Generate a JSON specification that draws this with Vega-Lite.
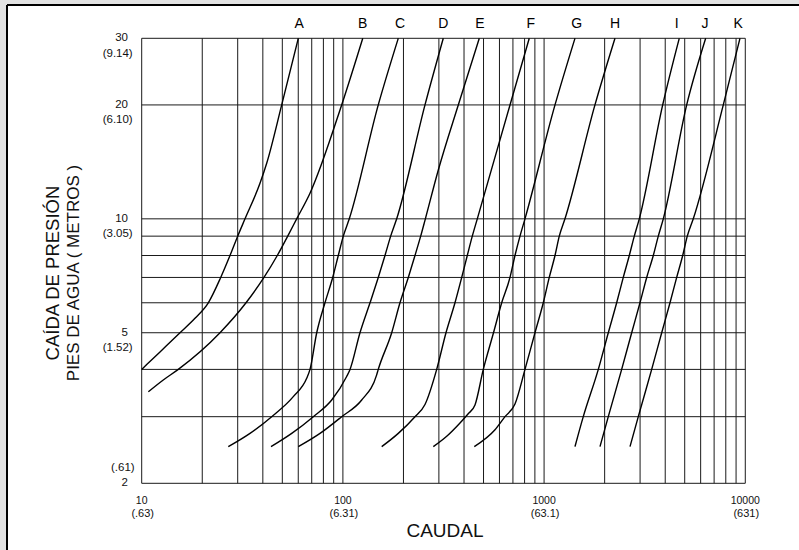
{
  "$schema": "https://vega.github.io/schema/vega-lite/v6.json",
  "autosize": {"type": "none"},
  "padding": {"left": 7, "top": 5, "right": 0, "bottom": 0},
  "width": 792,
  "height": 545,
  "background": "#e2e2e2",
  "config": {"view": {"fill": "white", "stroke": null}},
  "datasets": {
    "vgrid": [
      {"q": 10}, {"q": 20}, {"q": 30}, {"q": 40}, {"q": 50}, {"q": 60}, {"q": 70}, {"q": 80}, {"q": 90},
      {"q": 100}, {"q": 200}, {"q": 300}, {"q": 400}, {"q": 500}, {"q": 600}, {"q": 700}, {"q": 800}, {"q": 900},
      {"q": 1000}, {"q": 2000}, {"q": 3000}, {"q": 4000}, {"q": 5000}, {"q": 6000}, {"q": 7000}, {"q": 8000}, {"q": 9000},
      {"q": 10000}
    ],
    "hgrid": [
      {"h": 2}, {"h": 3}, {"h": 4}, {"h": 5}, {"h": 6}, {"h": 7}, {"h": 8}, {"h": 9}, {"h": 10}, {"h": 20}, {"h": 30}
    ],
    "curves": [
      {"c": "A", "q": 10, "h": 4}, {"c": "A", "q": 12.33, "h": 4.45}, {"c": "A", "q": 15.5, "h": 5}, {"c": "A", "q": 18.4, "h": 5.46},
      {"c": "A", "q": 21.43, "h": 6}, {"c": "A", "q": 24.7, "h": 7}, {"c": "A", "q": 27.47, "h": 8}, {"c": "A", "q": 30.0, "h": 9},
      {"c": "A", "q": 32.62, "h": 10}, {"c": "A", "q": 38.72, "h": 12.41}, {"c": "A", "q": 41.81, "h": 14.02}, {"c": "A", "q": 49.65, "h": 20}, {"c": "A", "q": 60.02, "h": 30},

      {"c": "B", "q": 10.79, "h": 3.49}, {"c": "B", "q": 12.8, "h": 3.75}, {"c": "B", "q": 15.2, "h": 4}, {"c": "B", "q": 24.5, "h": 5},
      {"c": "B", "q": 33.0, "h": 6}, {"c": "B", "q": 40.53, "h": 7}, {"c": "B", "q": 47.2, "h": 8}, {"c": "B", "q": 53.18, "h": 9},
      {"c": "B", "q": 58.93, "h": 10}, {"c": "B", "q": 68.63, "h": 11.69}, {"c": "B", "q": 98.6, "h": 20}, {"c": "B", "q": 125.5, "h": 30},

      {"c": "C", "q": 26.94, "h": 2.5}, {"c": "C", "q": 34.54, "h": 2.71}, {"c": "C", "q": 44.27, "h": 3}, {"c": "C", "q": 56.68, "h": 3.39},
      {"c": "C", "q": 66.08, "h": 3.79}, {"c": "C", "q": 68.63, "h": 4}, {"c": "C", "q": 74.11, "h": 5}, {"c": "C", "q": 81.46, "h": 6},
      {"c": "C", "q": 88.99, "h": 7}, {"c": "C", "q": 94.87, "h": 8}, {"c": "C", "q": 100.46, "h": 9}, {"c": "C", "q": 107.6, "h": 10},
      {"c": "C", "q": 149.9, "h": 20}, {"c": "C", "q": 188.5, "h": 30},

      {"c": "D", "q": 43.92, "h": 2.5}, {"c": "D", "q": 55.67, "h": 2.71}, {"c": "D", "q": 71.28, "h": 3}, {"c": "D", "q": 87.98, "h": 3.32},
      {"c": "D", "q": 104.4, "h": 3.83}, {"c": "D", "q": 108.5, "h": 4}, {"c": "D", "q": 121.6, "h": 5}, {"c": "D", "q": 136.4, "h": 6},
      {"c": "D", "q": 149.9, "h": 7}, {"c": "D", "q": 161.9, "h": 8}, {"c": "D", "q": 172.8, "h": 9}, {"c": "D", "q": 185.1, "h": 10},
      {"c": "D", "q": 255.9, "h": 20}, {"c": "D", "q": 315.5, "h": 30},

      {"c": "E", "q": 60.02, "h": 2.5}, {"c": "E", "q": 76.96, "h": 2.71}, {"c": "E", "q": 98.6, "h": 3}, {"c": "E", "q": 124.0, "h": 3.32},
      {"c": "E", "q": 147.2, "h": 3.87}, {"c": "E", "q": 149.9, "h": 4}, {"c": "E", "q": 174.8, "h": 5}, {"c": "E", "q": 192.2, "h": 6},
      {"c": "E", "q": 211.4, "h": 7}, {"c": "E", "q": 228.2, "h": 8}, {"c": "E", "q": 243.6, "h": 9}, {"c": "E", "q": 257.0, "h": 10},
      {"c": "E", "q": 298.0, "h": 13.46}, {"c": "E", "q": 374.6, "h": 20}, {"c": "E", "q": 476.4, "h": 30},

      {"c": "F", "q": 155.9, "h": 2.5}, {"c": "F", "q": 188.5, "h": 2.71}, {"c": "F", "q": 228.2, "h": 3}, {"c": "F", "q": 255.9, "h": 3.23},
      {"c": "F", "q": 292.6, "h": 4}, {"c": "F", "q": 325.4, "h": 5}, {"c": "F", "q": 360.7, "h": 6}, {"c": "F", "q": 389.6, "h": 7},
      {"c": "F", "q": 415.2, "h": 8}, {"c": "F", "q": 439.7, "h": 9}, {"c": "F", "q": 465.6, "h": 10}, {"c": "F", "q": 677.0, "h": 20},
      {"c": "F", "q": 844.0, "h": 30},

      {"c": "G", "q": 281.4, "h": 2.5}, {"c": "G", "q": 329.2, "h": 2.667}, {"c": "G", "q": 382.0, "h": 2.887}, {"c": "G", "q": 418.6, "h": 3.049},
      {"c": "G", "q": 453.5, "h": 3.221},
      {"c": "G", "q": 498.7, "h": 4}, {"c": "G", "q": 560.5, "h": 5}, {"c": "G", "q": 615.6, "h": 6}, {"c": "G", "q": 677.0, "h": 7},
      {"c": "G", "q": 716.7, "h": 8}, {"c": "G", "q": 759.0, "h": 9}, {"c": "G", "q": 803.6, "h": 10}, {"c": "G", "q": 1133, "h": 20},
      {"c": "G", "q": 1424, "h": 30},

      {"c": "H", "q": 449.9, "h": 2.5}, {"c": "H", "q": 570.2, "h": 2.77}, {"c": "H", "q": 639.3, "h": 3}, {"c": "H", "q": 716.7, "h": 3.24},
      {"c": "H", "q": 803.6, "h": 4}, {"c": "H", "q": 901.0, "h": 5}, {"c": "H", "q": 990.9, "h": 6}, {"c": "H", "q": 1061, "h": 7},
      {"c": "H", "q": 1133, "h": 8}, {"c": "H", "q": 1190, "h": 9}, {"c": "H", "q": 1270, "h": 10}, {"c": "H", "q": 1790, "h": 20},
      {"c": "H", "q": 2251, "h": 30},

      {"c": "I", "q": 1424, "h": 2.5}, {"c": "I", "q": 1566, "h": 3}, {"c": "I", "q": 1860, "h": 4}, {"c": "I", "q": 2085, "h": 5},
      {"c": "I", "q": 2295, "h": 6}, {"c": "I", "q": 2475, "h": 7}, {"c": "I", "q": 2652, "h": 8}, {"c": "I", "q": 2808, "h": 9},
      {"c": "I", "q": 2973, "h": 10}, {"c": "I", "q": 3886, "h": 20}, {"c": "I", "q": 4698, "h": 30},

      {"c": "J", "q": 1896, "h": 2.5}, {"c": "J", "q": 2085, "h": 3}, {"c": "J", "q": 2430, "h": 4}, {"c": "J", "q": 2725, "h": 5},
      {"c": "J", "q": 2997, "h": 6}, {"c": "J", "q": 3236, "h": 7}, {"c": "J", "q": 3490, "h": 8}, {"c": "J", "q": 3695, "h": 9},
      {"c": "J", "q": 3913, "h": 10}, {"c": "J", "q": 5114, "h": 20}, {"c": "J", "q": 6356, "h": 30},

      {"c": "K", "q": 2673, "h": 2.5}, {"c": "K", "q": 2939, "h": 3}, {"c": "K", "q": 3426, "h": 4}, {"c": "K", "q": 3842, "h": 5},
      {"c": "K", "q": 4225, "h": 6}, {"c": "K", "q": 4561, "h": 7}, {"c": "K", "q": 4886, "h": 8}, {"c": "K", "q": 5149, "h": 9},
      {"c": "K", "q": 5515, "h": 10}, {"c": "K", "q": 7775, "h": 20}, {"c": "K", "q": 9412, "h": 30}
    ],
    "curveLabels": [
      {"c": "A", "q": 60.7}, {"c": "B", "q": 125.4}, {"c": "C", "q": 192.2}, {"c": "D", "q": 315.5}, {"c": "E", "q": 480},
      {"c": "F", "q": 857.9}, {"c": "G", "q": 1452}, {"c": "H", "q": 2251}, {"c": "I", "q": 4560}, {"c": "J", "q": 6305}, {"c": "K", "q": 9230}
    ],
    "xticks": [
      {"q": 10, "n": "10", "m": "(.63)"}, {"q": 100, "n": "100", "m": "(6.31)"},
      {"q": 1000, "n": "1000", "m": "(63.1)"}, {"q": 10000, "n": "10000", "m": "(631)"}
    ],
    "yticks": [
      {"h": 30, "n": "30", "m": "(9.14)"}, {"h": 20, "n": "20", "m": "(6.10)"}, {"h": 10, "n": "10", "m": "(3.05)"},
      {"h": 5, "n": "5", "m": "(1.52)"}, {"h": 2, "n": "2", "m": "(.61)"}
    ],
    "titles": [
      {"t": "CAÍDA DE PRESIÓN", "q": 3.624, "h": 7.19, "line": 1},
      {"t": "PIES DE AGUA ( METROS )", "q": 4.608, "h": 7.19, "line": 2}
    ],
    "xtitle": [{"t": "CAUDAL", "q": 321.7, "h": 1.496}]
  },
  "layer": [
    {
      "data": {"name": "vgrid"},
      "mark": {"type": "rule", "color": "#1a1a1a", "strokeWidth": 1},
      "encoding": {
        "x": {"field": "q", "type": "quantitative", "scale": {"type": "log", "domain": [2.1405, 18492], "nice": false, "zero": false}, "axis": null},
        "y": {"datum": 2, "type": "quantitative", "scale": {"type": "log", "domain": [1.3328, 36.74], "nice": false, "zero": false}, "axis": null},
        "y2": {"datum": 30}
      }
    },
    {
      "data": {"name": "hgrid"},
      "mark": {"type": "rule", "color": "#1a1a1a", "strokeWidth": 1},
      "encoding": {
        "y": {"field": "h", "type": "quantitative", "scale": {"type": "log", "domain": [1.3328, 36.74], "nice": false, "zero": false}, "axis": null},
        "x": {"datum": 10, "type": "quantitative", "scale": {"type": "log", "domain": [2.1405, 18492], "nice": false, "zero": false}, "axis": null},
        "x2": {"datum": 10000}
      }
    },
    {
      "data": {"name": "curves"},
      "mark": {"type": "line", "color": "black", "strokeWidth": 1.4, "interpolate": "monotone"},
      "encoding": {
        "x": {"field": "q", "type": "quantitative", "scale": {"type": "log", "domain": [2.1405, 18492], "nice": false, "zero": false}, "axis": null},
        "y": {"field": "h", "type": "quantitative", "scale": {"type": "log", "domain": [1.3328, 36.74], "nice": false, "zero": false}, "axis": null},
        "detail": {"field": "c"}
      }
    },
    {
      "data": {"name": "curveLabels"},
      "mark": {"type": "text", "font": "Liberation Sans", "fontSize": 14, "color": "black", "baseline": "middle", "align": "center"},
      "encoding": {
        "x": {"field": "q", "type": "quantitative", "scale": {"type": "log", "domain": [2.1405, 18492], "nice": false, "zero": false}, "axis": null},
        "y": {"datum": 32.8, "type": "quantitative", "scale": {"type": "log", "domain": [1.3328, 36.74], "nice": false, "zero": false}, "axis": null},
        "text": {"field": "c"}
      }
    },
    {
      "data": {"name": "xticks"},
      "mark": {"type": "text", "font": "Liberation Sans", "fontSize": 10.5, "color": "#111", "baseline": "middle", "align": "center", "dy": 17.4},
      "encoding": {
        "x": {"field": "q", "type": "quantitative", "scale": {"type": "log", "domain": [2.1405, 18492], "nice": false, "zero": false}, "axis": null},
        "y": {"datum": 2, "type": "quantitative", "scale": {"type": "log", "domain": [1.3328, 36.74], "nice": false, "zero": false}, "axis": null},
        "text": {"field": "n"}
      }
    },
    {
      "data": {"name": "xticks"},
      "mark": {"type": "text", "font": "Liberation Sans", "fontSize": 11, "color": "#111", "baseline": "middle", "align": "center", "dy": 31, "dx": 1},
      "encoding": {
        "x": {"field": "q", "type": "quantitative", "scale": {"type": "log", "domain": [2.1405, 18492], "nice": false, "zero": false}, "axis": null},
        "y": {"datum": 2, "type": "quantitative", "scale": {"type": "log", "domain": [1.3328, 36.74], "nice": false, "zero": false}, "axis": null},
        "text": {"field": "m"}
      }
    },
    {
      "data": {"name": "yticks"},
      "mark": {"type": "text", "font": "Liberation Sans", "fontSize": 11.5, "color": "#111", "baseline": "middle", "align": "right", "dx": -13.7},
      "encoding": {
        "x": {"datum": 10, "type": "quantitative", "scale": {"type": "log", "domain": [2.1405, 18492], "nice": false, "zero": false}, "axis": null},
        "y": {"field": "h", "type": "quantitative", "scale": {"type": "log", "domain": [1.3328, 36.74], "nice": false, "zero": false}, "axis": null},
        "text": {"field": "n"}
      }
    },
    {
      "data": {"name": "yticks"},
      "transform": [{"filter": "datum.h != 2"}],
      "mark": {"type": "text", "font": "Liberation Sans", "fontSize": 11.5, "color": "#111", "baseline": "middle", "align": "right", "dx": -9, "dy": 15.5},
      "encoding": {
        "x": {"datum": 10, "type": "quantitative", "scale": {"type": "log", "domain": [2.1405, 18492], "nice": false, "zero": false}, "axis": null},
        "y": {"field": "h", "type": "quantitative", "scale": {"type": "log", "domain": [1.3328, 36.74], "nice": false, "zero": false}, "axis": null},
        "text": {"field": "m"}
      }
    },
    {
      "data": {"name": "yticks"},
      "transform": [{"filter": "datum.h == 2"}],
      "mark": {"type": "text", "font": "Liberation Sans", "fontSize": 11.5, "color": "#111", "baseline": "middle", "align": "right", "dx": -7, "dy": -15},
      "encoding": {
        "x": {"datum": 10, "type": "quantitative", "scale": {"type": "log", "domain": [2.1405, 18492], "nice": false, "zero": false}, "axis": null},
        "y": {"field": "h", "type": "quantitative", "scale": {"type": "log", "domain": [1.3328, 36.74], "nice": false, "zero": false}, "axis": null},
        "text": {"field": "m"}
      }
    },
    {
      "data": {"name": "titles"},
      "transform": [{"filter": "datum.line == 1"}],
      "mark": {"type": "text", "font": "Liberation Sans", "fontSize": 18.5, "color": "#111", "baseline": "middle", "align": "center", "angle": 270},
      "encoding": {
        "x": {"field": "q", "type": "quantitative", "scale": {"type": "log", "domain": [2.1405, 18492], "nice": false, "zero": false}, "axis": null},
        "y": {"field": "h", "type": "quantitative", "scale": {"type": "log", "domain": [1.3328, 36.74], "nice": false, "zero": false}, "axis": null},
        "text": {"field": "t"}
      }
    },
    {
      "data": {"name": "titles"},
      "transform": [{"filter": "datum.line == 2"}],
      "mark": {"type": "text", "font": "Liberation Sans", "fontSize": 17, "color": "#111", "baseline": "middle", "align": "center", "angle": 270},
      "encoding": {
        "x": {"field": "q", "type": "quantitative", "scale": {"type": "log", "domain": [2.1405, 18492], "nice": false, "zero": false}, "axis": null},
        "y": {"field": "h", "type": "quantitative", "scale": {"type": "log", "domain": [1.3328, 36.74], "nice": false, "zero": false}, "axis": null},
        "text": {"field": "t"}
      }
    },
    {
      "data": {"name": "xtitle"},
      "mark": {"type": "text", "font": "Liberation Sans", "fontSize": 19, "color": "#111", "baseline": "middle", "align": "center"},
      "encoding": {
        "x": {"field": "q", "type": "quantitative", "scale": {"type": "log", "domain": [2.1405, 18492], "nice": false, "zero": false}, "axis": null},
        "y": {"field": "h", "type": "quantitative", "scale": {"type": "log", "domain": [1.3328, 36.74], "nice": false, "zero": false}, "axis": null},
        "text": {"field": "t"}
      }
    },
    {
      "data": {"values": [{"k": 1}]},
      "mark": {"type": "rule", "color": "black", "strokeWidth": 2},
      "encoding": {
        "x": {"datum": 2.1405, "type": "quantitative", "scale": {"type": "log", "domain": [2.1405, 18492], "nice": false, "zero": false}, "axis": null},
        "y": {"datum": 1.3328, "type": "quantitative", "scale": {"type": "log", "domain": [1.3328, 36.74], "nice": false, "zero": false}, "axis": null},
        "y2": {"datum": 36.74}
      }
    },
    {
      "data": {"values": [{"k": 1}]},
      "mark": {"type": "rule", "color": "black", "strokeWidth": 2},
      "encoding": {
        "x": {"datum": 2.1405, "type": "quantitative", "scale": {"type": "log", "domain": [2.1405, 18492], "nice": false, "zero": false}, "axis": null},
        "x2": {"datum": 18492},
        "y": {"datum": 36.74, "type": "quantitative", "scale": {"type": "log", "domain": [1.3328, 36.74], "nice": false, "zero": false}, "axis": null}
      }
    }
  ]
}
